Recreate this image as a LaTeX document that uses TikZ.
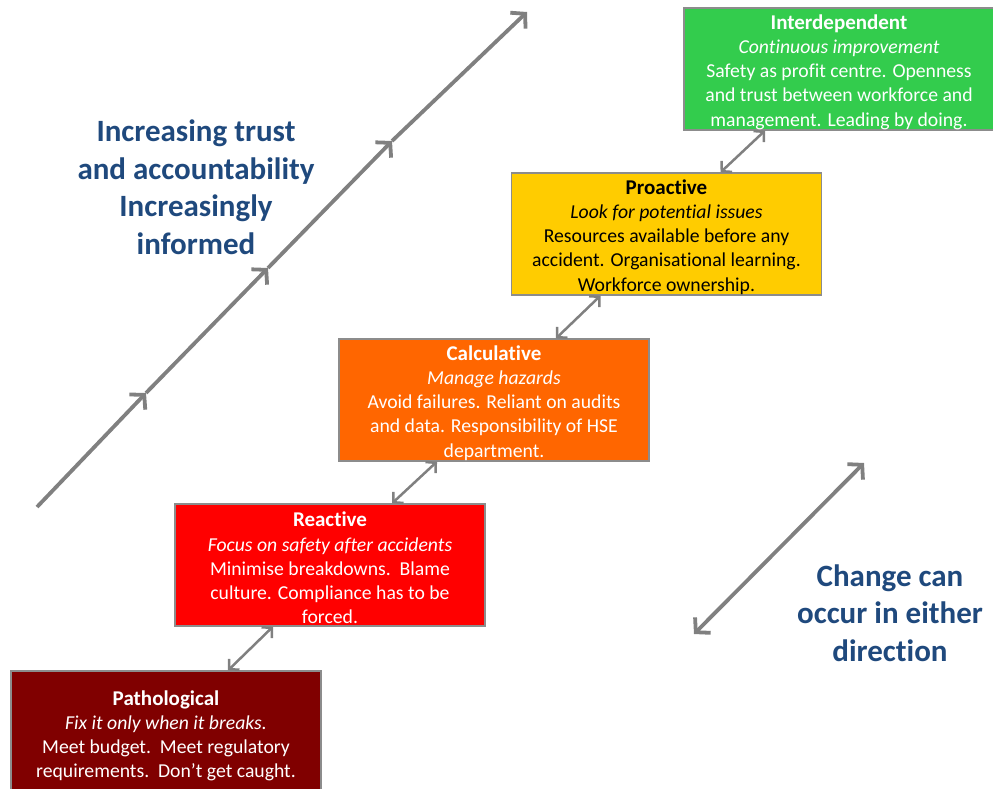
\documentclass[tikz,border=0pt]{standalone}
\usepackage{fontspec}
\setmainfont[Ligatures=NoCommon]{Carlito}
\usetikzlibrary{arrows.meta,calc}
\definecolor{arrowgray}{RGB}{128,128,128}
\definecolor{bordergray}{RGB}{140,140,140}
\definecolor{titleblue}{RGB}{31,73,125}
\definecolor{cgreen}{RGB}{51,204,77}
\definecolor{cyellow}{RGB}{255,204,0}
\definecolor{corange}{RGB}{255,102,0}
\definecolor{cred}{RGB}{255,0,0}
\definecolor{cdarkred}{RGB}{128,0,0}
\newcommand{\stagetitle}[1]{{\fontsize{21pt}{24.2pt}\selectfont\bfseries #1}}
\begin{document}
\begin{tikzpicture}[x=1pt,y=-1pt,
  stage/.style={draw=bordergray, line width=1.2pt, minimum width=310pt, minimum height=122pt,
    inner sep=0pt},
  stagetext/.style={inner sep=0pt, align=center, font=\fontsize{19.7pt}{24.2pt}\selectfont},
  bigtext/.style={align=center, text=titleblue, font=\bfseries\fontsize{31pt}{37.5pt}\selectfont},
  link/.style={draw=arrowgray, line width=2.5pt,
    {Straight Barb[length=7pt,width=15pt]}-{Straight Barb[length=7pt,width=15pt]}},
  bigarrow/.style={draw=arrowgray, line width=3.8pt, -{Straight Barb[length=10pt,width=22pt]}},
  bothways/.style={draw=arrowgray, line width=3.8pt,
    {Straight Barb[length=10pt,width=22pt]}-{Straight Barb[length=10pt,width=22pt]}}
]
\useasboundingbox (0,0) rectangle (993,789);

% stages
\node[stage, fill=cgreen] (inter) at (839,69) {};
\node[stagetext, text=white] (intertext) at ([yshift=-3pt]inter.center)
  {\stagetitle{Interdependent}\\ \textit{Continuous improvement}\\ Safety as profit centre. Openness\\ and trust between workforce and\\ management. Leading by doing.};
\node[stage, fill=cyellow] (pro) at (666.5,234) {};
\node[stagetext, text=black] (protext) at ([yshift=-3pt]pro.center)
  {\stagetitle{Proactive}\\ \textit{Look for potential issues}\\ Resources available before any\\ accident. Organisational learning.\\ Workforce ownership.};
\node[stage, fill=corange] (calc) at (494,400) {};
\node[stagetext, text=white] (calctext) at ([yshift=-3pt]calc.center)
  {\stagetitle{Calculative}\\ \textit{Manage hazards}\\ Avoid failures. Reliant on audits\\ and data. Responsibility of HSE\\ department.};
\node[stage, fill=cred] (react) at (330,565) {};
\node[stagetext, text=white] (reacttext) at ([yshift=-3pt]react.center)
  {\stagetitle{Reactive}\\ \textit{Focus on safety after accidents}\\ Minimise breakdowns.\ \ Blame\\ culture. Compliance has to be\\ forced.};
\node[stage, fill=cdarkred, minimum height=126pt] (path) at (166,734) {};
\node[stagetext, text=white] (pathtext) at ([yshift=-2pt]path.center)
  {\stagetitle{Pathological}\\ \textit{Fix it only when it breaks.}\\ Meet budget.\ \ Meet regulatory\\ requirements.\ \ Don’t get caught.};

% links between stages
\draw[link] ([xshift=62pt]path.north) -- ([xshift=-57pt]react.south);
\draw[link] ([xshift=62pt]react.north) -- ([xshift=-57pt]calc.south);
\draw[link] ([xshift=62pt]calc.north) -- ([xshift=-66pt]pro.south);
\draw[link] ([xshift=54pt]pro.north) -- ([xshift=-74pt]inter.south);

% big rising arrow
\coordinate (a0) at (37,507);
\coordinate (a1) at (146,393);
\coordinate (a2) at (268,268);
\coordinate (a3) at (392,141);
\coordinate (a4) at (527,12);
\draw[bigarrow] (a0) -- (a1);
\draw[bigarrow] (a1) -- (a2);
\draw[bigarrow] (a2) -- (a3);
\draw[bigarrow] (a3) -- (a4);

% either-direction arrow
\coordinate (b0) at (694,634);
\coordinate (b1) at (864,463);
\draw[bothways] (b0) -- (b1);

% texts
\node[bigtext] (trust) at (196,187) {Increasing trust\\ and accountability\\ Increasingly\\ informed};
\node[bigtext] (change) at (890,613) {Change can\\ occur in either\\ direction};
\end{tikzpicture}
\end{document}
